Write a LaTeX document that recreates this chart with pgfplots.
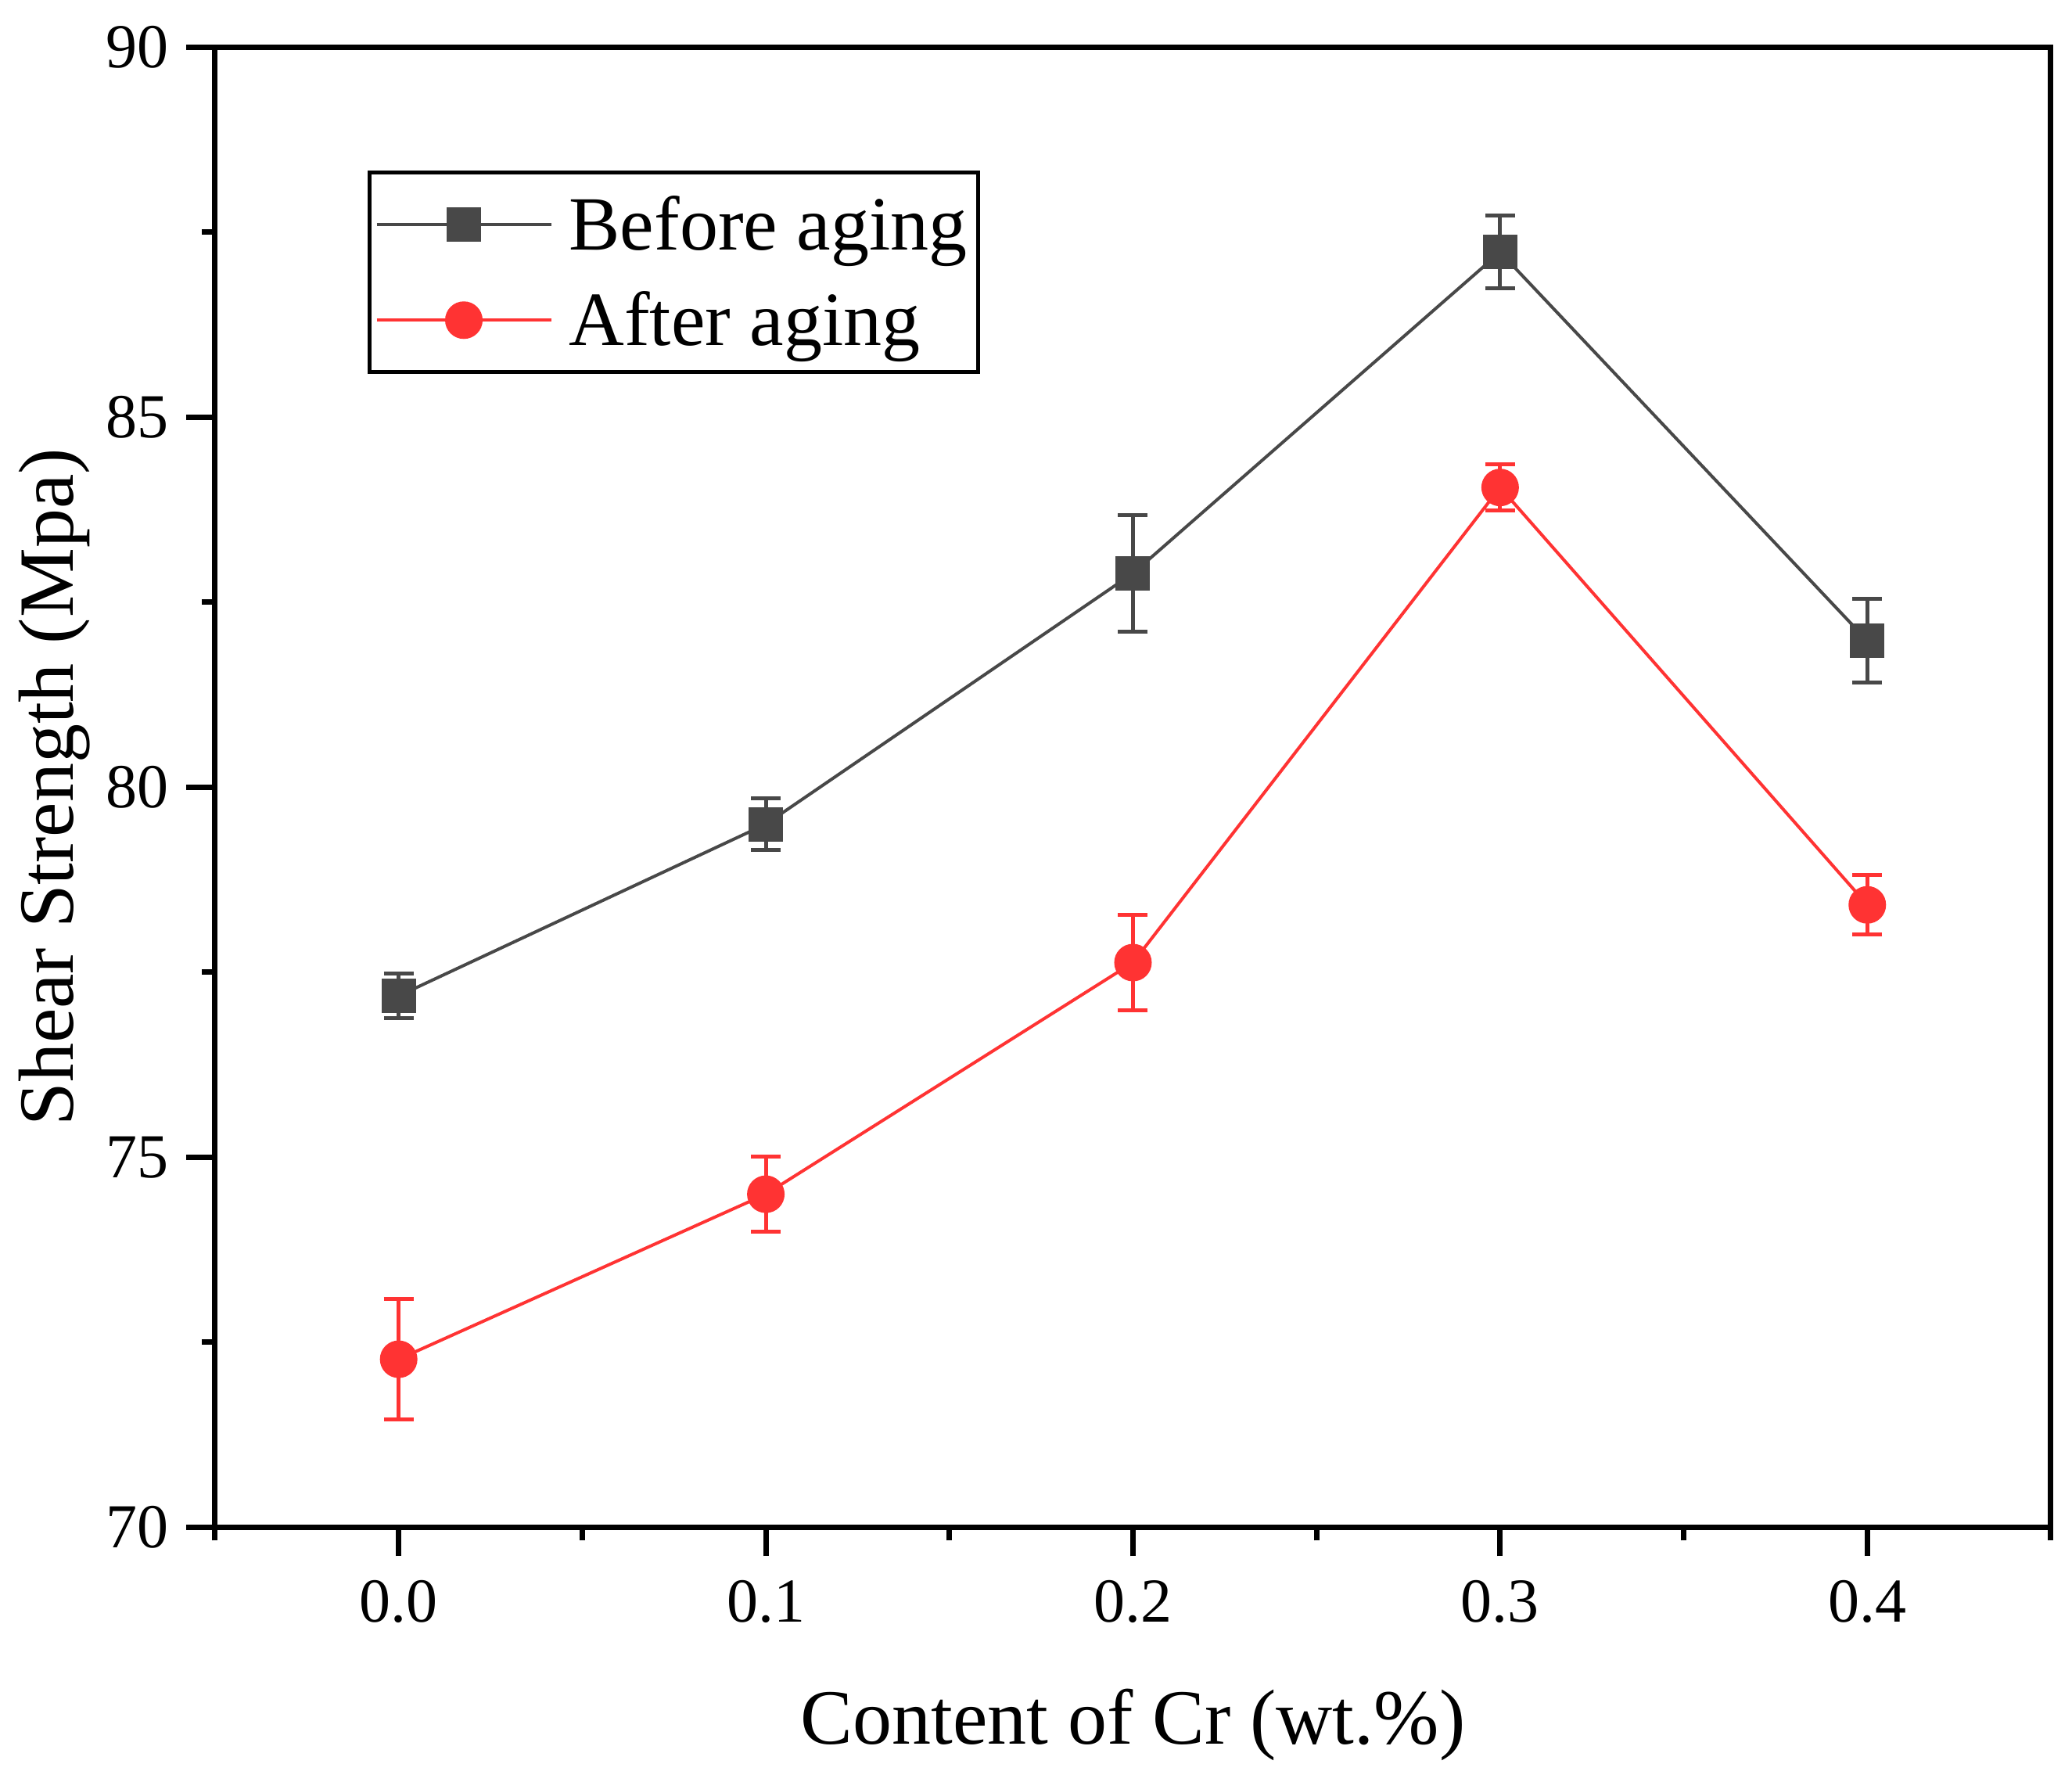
\documentclass[border=0pt]{standalone}
\usepackage{fontspec}
\setmainfont{Liberation Serif}
\usepackage{pgfplots}
\pgfplotsset{compat=1.18}
\definecolor{bgray}{RGB}{72,72,72}
\definecolor{ared}{RGB}{255,51,51}

\begin{document}
\begin{tikzpicture}
\begin{axis}[
    scale only axis,
    width=234.7pt,
    height=189.2pt,
    xmin=-0.05, xmax=0.45,
    ymin=70, ymax=90,
    xtick={0,0.1,0.2,0.3,0.4},
    minor xtick={-0.05,0.05,0.15,0.25,0.35,0.45},
    ytick={70,75,80,85,90},
    minor ytick={72.5,77.5,82.5,87.5},
    tick align=outside,
    xtick pos=bottom,
    ytick pos=left,
    major tick length=3.7pt,
    minor tick length=1.7pt,
    axis line style={line width=0.7pt},
    tick style={line width=0.7pt, black},
    /pgf/number format/assume math mode=true,
    x tick label style={/pgf/number format/fixed, /pgf/number format/fixed zerofill, /pgf/number format/precision=1, yshift=0.4pt},
    y tick label style={xshift=1.3pt},
    tick label style={font=\fontsize{8}{9.6}\selectfont},
    xlabel={Content of Cr (wt.\%)},
    ylabel={Shear Strength (Mpa)},
    xlabel style={font=\fontsize{10}{12}\selectfont, inner sep=0pt, at={(axis description cs:0.5,-0.1464)}, anchor=base},
    ylabel style={font=\fontsize{10}{12}\selectfont, inner sep=0pt, at={(axis description cs:-0.0775,0.5)}, anchor=base},
    legend style={at={(0.0831,0.9165)}, anchor=north west, draw=black, line width=0.5pt,
        font=\fontsize{9.8}{12}\selectfont, inner xsep=0pt, inner ysep=1pt,
        row sep=0.9pt,
        nodes={inner ysep=0pt, inner xsep=1.4pt, text height=8.9pt, text depth=2.4pt}},
    legend cell align={left},
    legend image code/.code={%
        \path (-0.7pt,0pt) (23.0pt,0pt);
        \draw[mark repeat=2, mark phase=2, #1] plot coordinates {(0pt,0pt) (11.15pt,0pt) (22.3pt,0pt)};},
]
% before aging
\addplot+[color=bgray, line width=0.4pt, mark=square*, mark size=2pt,
    mark options={fill=bgray, draw=bgray, solid},
    error bars/.cd, y dir=both, y explicit,
    error bar style={line width=0.5pt, bgray},
    error mark options={rotate=90, mark size=1.9pt, line width=0.5pt, bgray}]
coordinates {
 (0.0,77.18) +- (0,0.30)
 (0.1,79.50) +- (0,0.35)
 (0.2,82.89) +- (0,0.79)
 (0.3,87.23) +- (0,0.49)
 (0.4,81.98) +- (0,0.57)
};
\addlegendentry{Before aging}

% after aging
\addplot+[color=ared, line width=0.4pt, mark=*, mark size=2.2pt,
    mark options={fill=ared, draw=ared, solid},
    error bars/.cd, y dir=both, y explicit,
    error bar style={line width=0.5pt, ared},
    error mark options={rotate=90, mark size=1.9pt, line width=0.5pt, ared}]
coordinates {
 (0.0,72.27) +- (0,0.81)
 (0.1,74.50) +- (0,0.51)
 (0.2,77.63) +- (0,0.64)
 (0.3,84.05) +- (0,0.31)
 (0.4,78.41) +- (0,0.40)
};
\addlegendentry{After aging}
\end{axis}
\path ([shift={(-27.5pt,-32.5pt)}]current axis.south west) rectangle ([shift={(2.7pt,5.9pt)}]current axis.north east);
\end{tikzpicture}
\end{document}
